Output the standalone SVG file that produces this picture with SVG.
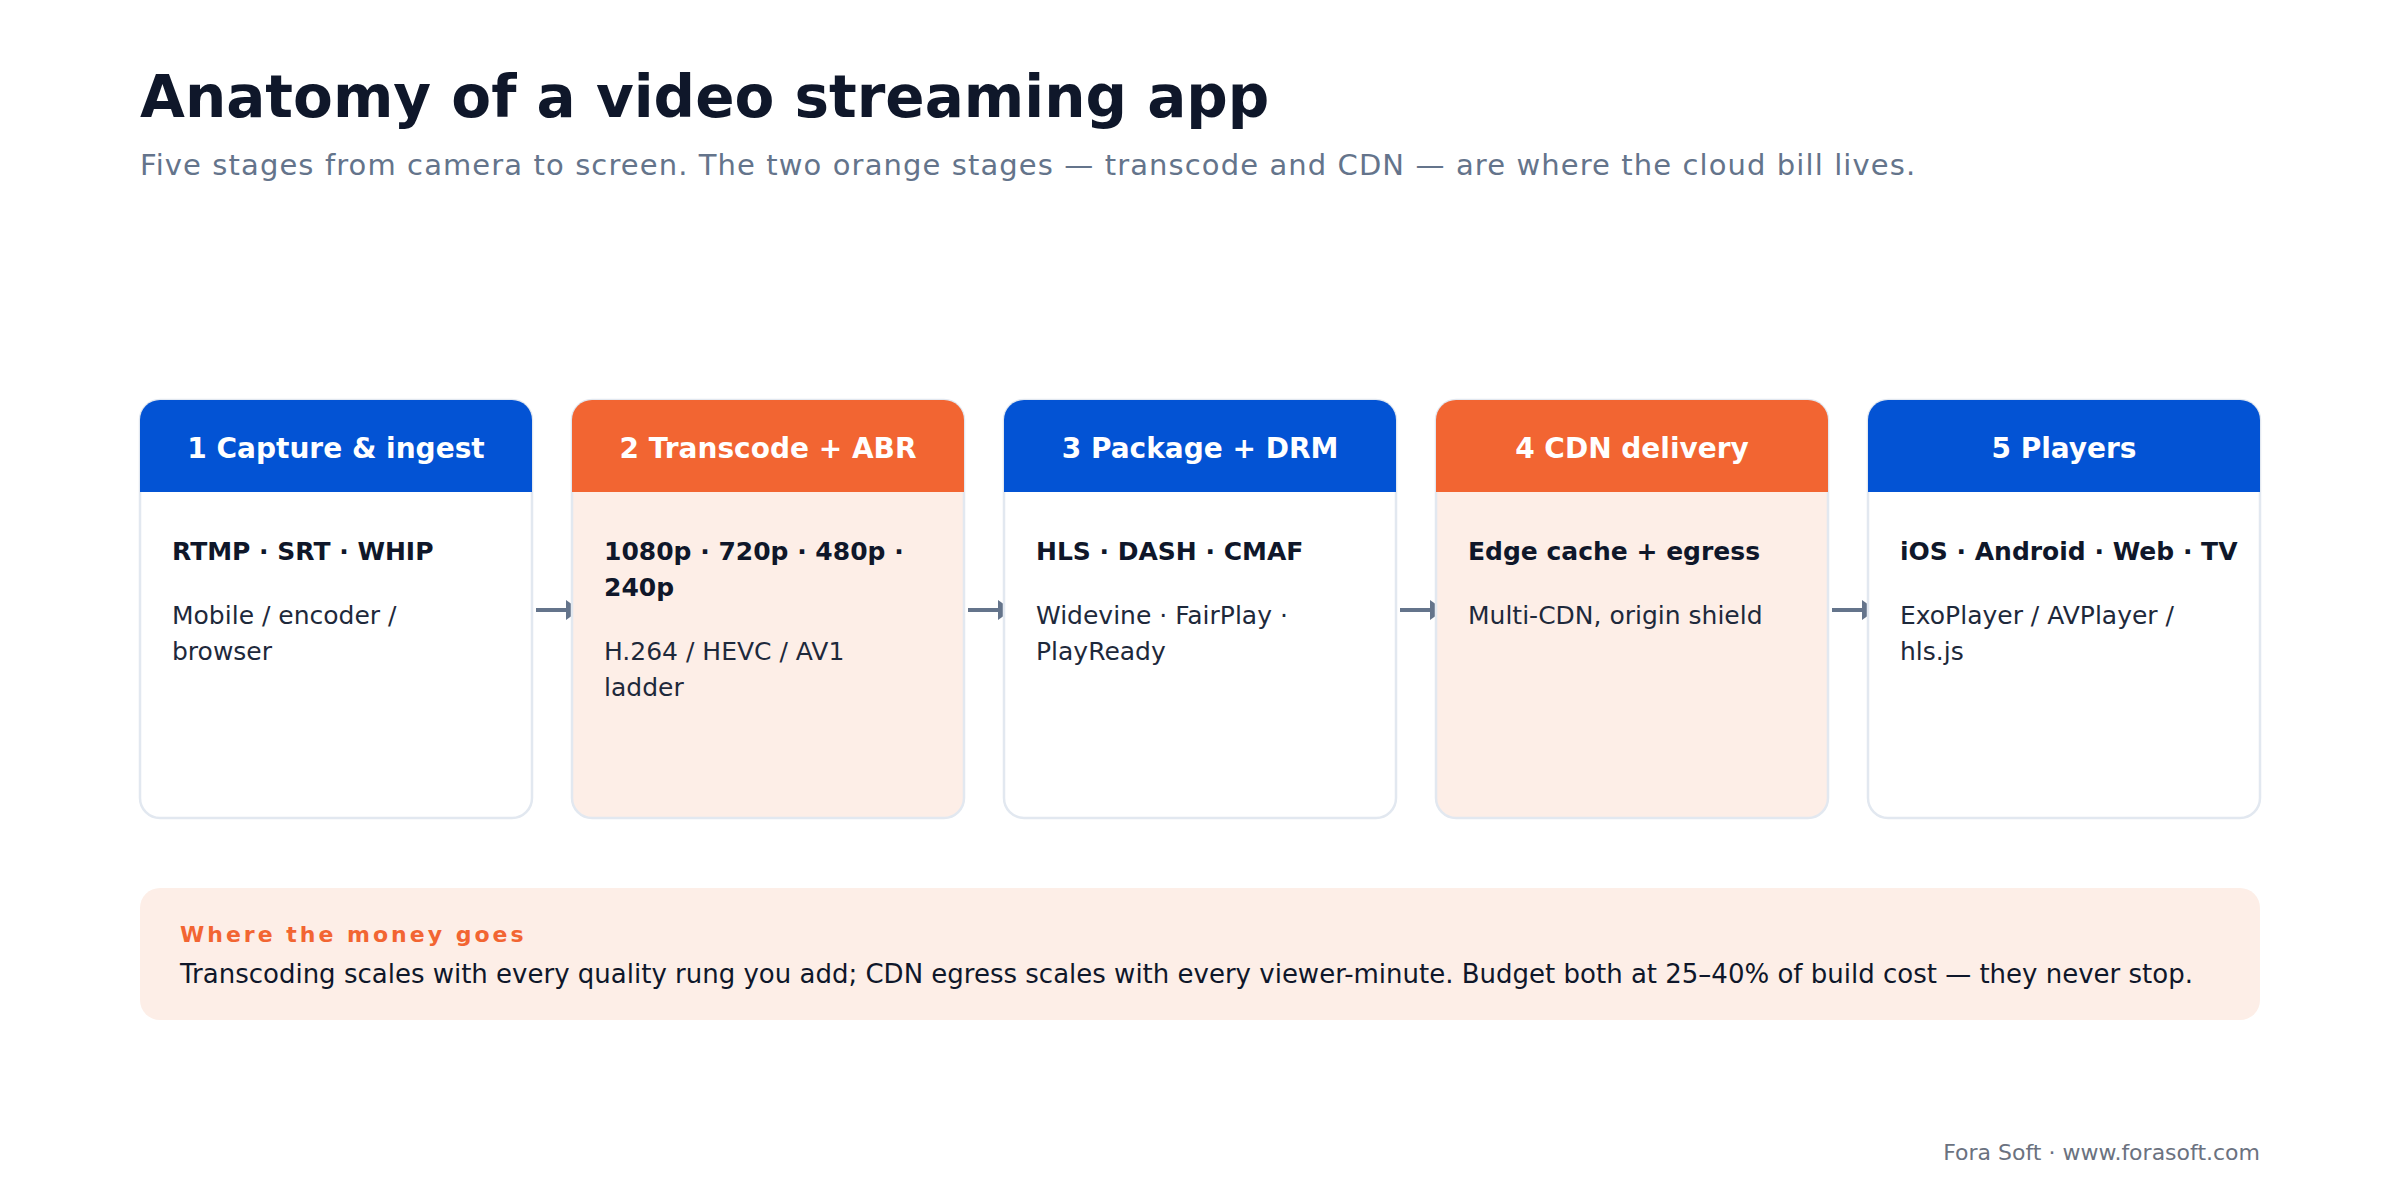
<svg xmlns="http://www.w3.org/2000/svg" width="2400" height="1200" viewBox="0 0 2400 1200">
<defs>
<style>
text{font-family:"DejaVu Sans","Liberation Sans",sans-serif}
.title{font-size:58px;font-weight:bold;fill:#0f172a}
.sub{font-size:29px;fill:#64748b;letter-spacing:1.1px}
.card{stroke:#e2e8f0;stroke-width:2.5}
.white{fill:#ffffff}
.warm{fill:#fdeee7}
.hb{fill:#0353d4}
.ho{fill:#f26532}
.ht{font-size:28px;font-weight:bold;fill:#ffffff;text-anchor:middle}
.b{font-size:25px;font-weight:bold;fill:#0f172a}
.r{font-size:25px;fill:#1e293b}
.conn{stroke:#64748b;stroke-width:4;fill:none}
.head{fill:#64748b}
.ml{font-size:22px;font-weight:bold;fill:#f26532;letter-spacing:3px}
.mb{font-size:26px;fill:#0f172a}
.foot{font-size:22px;fill:#6b7280;text-anchor:end}
</style>
</defs>
<rect width="2400" height="1200" fill="#ffffff"/>
<text class="title" x="140" y="117">Anatomy of a video streaming app</text>
<text class="sub" x="140" y="175">Five stages from camera to screen. The two orange stages — transcode and CDN — are where the cloud bill lives.</text>

<g id="connectors">
<path class="conn" d="M536,610 H567"/><polygon class="head" points="566,600 580,610 566,620"/>
<path class="conn" d="M968,610 H999"/><polygon class="head" points="998,600 1012,610 998,620"/>
<path class="conn" d="M1400,610 H1431"/><polygon class="head" points="1430,600 1444,610 1430,620"/>
<path class="conn" d="M1832,610 H1863"/><polygon class="head" points="1862,600 1876,610 1862,620"/>
</g>

<g id="stage1">
<rect class="card white" x="140" y="400" width="392" height="418" rx="20"/>
<path class="hb" d="M140,492 V420 A20,20 0 0 1 160,400 H512 A20,20 0 0 1 532,420 V492 Z"/>
<text class="ht" x="336" y="458">1 Capture &amp; ingest</text>
<text class="b" x="172" y="560">RTMP · SRT · WHIP</text>
<text class="r" x="172" y="624">Mobile / encoder /</text>
<text class="r" x="172" y="660">browser</text>
</g>

<g id="stage2">
<rect class="card warm" x="572" y="400" width="392" height="418" rx="20"/>
<path class="ho" d="M572,492 V420 A20,20 0 0 1 592,400 H944 A20,20 0 0 1 964,420 V492 Z"/>
<text class="ht" x="768" y="458">2 Transcode + ABR</text>
<text class="b" x="604" y="560">1080p · 720p · 480p ·</text>
<text class="b" x="604" y="596">240p</text>
<text class="r" x="604" y="660">H.264 / HEVC / AV1</text>
<text class="r" x="604" y="696">ladder</text>
</g>

<g id="stage3">
<rect class="card white" x="1004" y="400" width="392" height="418" rx="20"/>
<path class="hb" d="M1004,492 V420 A20,20 0 0 1 1024,400 H1376 A20,20 0 0 1 1396,420 V492 Z"/>
<text class="ht" x="1200" y="458">3 Package + DRM</text>
<text class="b" x="1036" y="560">HLS · DASH · CMAF</text>
<text class="r" x="1036" y="624">Widevine · FairPlay ·</text>
<text class="r" x="1036" y="660">PlayReady</text>
</g>

<g id="stage4">
<rect class="card warm" x="1436" y="400" width="392" height="418" rx="20"/>
<path class="ho" d="M1436,492 V420 A20,20 0 0 1 1456,400 H1808 A20,20 0 0 1 1828,420 V492 Z"/>
<text class="ht" x="1632" y="458">4 CDN delivery</text>
<text class="b" x="1468" y="560">Edge cache + egress</text>
<text class="r" x="1468" y="624">Multi-CDN, origin shield</text>
</g>

<g id="stage5">
<rect class="card white" x="1868" y="400" width="392" height="418" rx="20"/>
<path class="hb" d="M1868,492 V420 A20,20 0 0 1 1888,400 H2240 A20,20 0 0 1 2260,420 V492 Z"/>
<text class="ht" x="2064" y="458">5 Players</text>
<text class="b" x="1900" y="560">iOS · Android · Web · TV</text>
<text class="r" x="1900" y="624">ExoPlayer / AVPlayer /</text>
<text class="r" x="1900" y="660">hls.js</text>
</g>

<g id="money">
<rect class="warm" x="140" y="888" width="2120" height="132" rx="20"/>
<text class="ml" x="180" y="942">Where the money goes</text>
<text class="mb" x="180" y="983">Transcoding scales with every quality rung you add; CDN egress scales with every viewer-minute. Budget both at 25–40% of build cost — they never stop.</text>
</g>

<text class="foot" x="2260" y="1160">Fora Soft · www.forasoft.com</text>
</svg>
